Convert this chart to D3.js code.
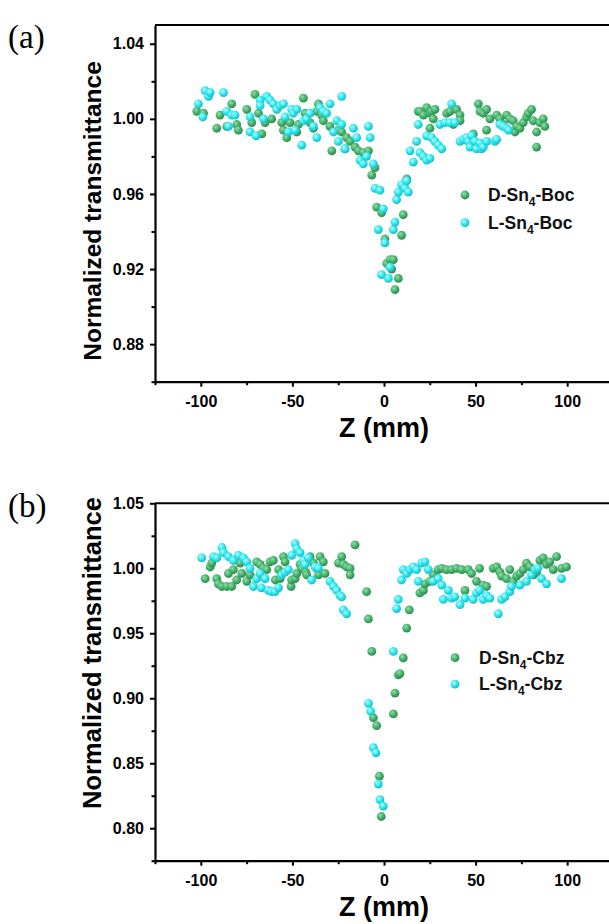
<!DOCTYPE html>
<html><head><meta charset="utf-8">
<script src="https://cdn.jsdelivr.net/npm/d3@7"></script>
<style>body{margin:0;background:#fff;} svg{display:block;}</style>
</head><body>
<svg id="c" width="609" height="924"></svg>
<script>
// ---------- data ----------
const xTicks = [-100, -50, 0, 50, 100];
const xMinorTicks = [-125, -75, -25, 25, 75, 125];
const yTicksA = [0.88, 0.92, 0.96, 1.00, 1.04];
const yMinorA = [0.86, 0.90, 0.94, 0.98, 1.02];
const yTicksB = [0.80, 0.85, 0.90, 0.95, 1.00, 1.05];
const yMinorB = [0.775, 0.825, 0.875, 0.925, 0.975, 1.025];
const xLabel = "Z (mm)";
const yLabel = "Normalized transmittance";
const seriesNamesA = [["D-Sn", "4", "-Boc"], ["L-Sn", "4", "-Boc"]];
const seriesNamesB = [["D-Sn", "4", "-Cbz"], ["L-Sn", "4", "-Cbz"]];

// panel (a): [Z (mm), normalized transmittance]
const bocD = [[-102.2,1.004],[-98.5,1.003],[-91.3,0.995],[-89.5,1.002],[-85.8,0.996],[-83.1,1.008],[-80.4,0.997],[-79.5,0.994],[-74.9,1.005],[-72.2,0.998],[-70.4,1.013],[-68.5,1.003],[-66.7,0.992],[-64.9,0.998],[-61.3,1.000],[-55.8,0.998],[-54.9,0.994],[-53.1,0.990],[-51.3,0.998],[-47.6,0.993],[-46.7,0.997],[-44.0,1.011],[-43.1,1.003],[-40.4,0.998],[-38.5,0.995],[-36.7,1.004],[-35.8,1.008],[-34.0,1.002],[-33.1,0.999],[-29.5,0.996],[-28.5,0.983],[-24.9,0.994],[-23.1,0.993],[-21.3,0.984],[-20.4,0.990],[-18.5,0.988],[-15.8,0.985],[-14.0,0.983],[-11.3,0.982],[-8.5,0.983],[-6.7,0.970],[-4.9,0.974],[-4.0,0.953],[-1.3,0.950],[0.5,0.936],[1.5,0.923],[3.3,0.925],[4.2,0.920],[5.1,0.925],[6.0,0.909],[7.8,0.915],[9.6,0.938],[10.5,0.949],[12.4,0.968],[18.7,1.004],[19.6,1.004],[21.5,1.002],[23.3,1.006],[25.1,1.003],[25.1,0.995],[26.0,1.004],[26.9,1.000],[27.8,1.005],[34.2,1.003],[36.0,1.004],[37.8,0.997],[39.6,1.005],[41.5,1.002],[41.5,0.999],[48.7,0.992],[51.5,1.008],[52.4,1.004],[54.2,1.003],[56.0,0.994],[56.0,1.005],[57.8,1.000],[61.5,1.002],[63.3,1.000],[65.1,0.997],[66.9,1.002],[68.7,1.000],[70.5,0.999],[71.5,0.993],[72.4,0.996],[74.2,0.995],[76.0,0.998],[77.8,1.001],[78.7,1.003],[80.5,1.005],[81.5,0.999],[83.3,0.993],[83.3,0.985],[85.1,0.998],[86.9,1.000],[87.8,0.996]];
const bocL = [[-101.3,1.008],[-98.9,1.001],[-97.6,1.015],[-95.8,1.012],[-94.9,1.014],[-87.6,1.014],[-85.8,1.004],[-84.9,0.996],[-83.1,1.002],[-81.3,1.002],[-73.1,1.001],[-73.1,0.993],[-69.8,0.991],[-67.6,1.010],[-67.6,1.007],[-65.8,1.000],[-64.0,1.012],[-62.2,1.010],[-60.4,1.008],[-58.5,1.005],[-56.7,1.007],[-54.9,1.008],[-54.0,1.001],[-52.2,0.993],[-50.4,1.005],[-49.5,1.003],[-48.5,0.994],[-47.6,1.005],[-44.9,0.986],[-44.0,0.999],[-42.2,1.000],[-40.4,1.003],[-38.5,0.996],[-36.7,0.990],[-34.9,1.006],[-33.1,1.004],[-31.3,1.003],[-29.5,1.008],[-27.6,0.993],[-25.8,0.999],[-24.9,0.988],[-23.1,1.012],[-23.1,0.997],[-21.3,0.984],[-16.7,0.995],[-14.9,0.990],[-13.1,0.978],[-11.3,0.976],[-9.5,0.980],[-8.5,0.996],[-7.6,0.990],[-5.8,0.976],[-4.9,0.963],[-3.1,0.941],[-2.2,0.962],[-1.3,0.917],[-0.4,0.952],[0.5,0.934],[2.4,0.915],[3.3,0.921],[5.1,0.941],[6.0,0.945],[6.9,0.957],[7.8,0.961],[9.6,0.965],[11.5,0.963],[12.4,0.967],[13.3,0.961],[14.2,0.983],[16.0,0.977],[17.8,0.988],[18.7,0.997],[19.6,0.982],[21.5,0.980],[23.3,0.978],[23.3,0.991],[25.1,0.979],[26.0,0.990],[27.8,0.988],[29.6,0.986],[30.5,0.997],[31.5,0.984],[33.3,0.998],[36.0,0.998],[36.9,1.008],[38.7,0.998],[41.5,0.988],[43.3,0.989],[45.1,0.990],[46.0,0.988],[46.9,0.985],[47.8,0.991],[49.6,0.988],[50.5,0.984],[52.4,0.987],[53.3,0.984],[54.2,0.985],[56.0,0.988],[60.5,0.988],[61.5,0.989],[63.3,0.997],[65.1,0.996],[66.9,0.995],[68.0,0.994]];

// panel (b)
const cbzD = [[-97.6,0.992],[-94.9,1.001],[-94.0,1.004],[-91.3,0.992],[-90.4,0.988],[-88.5,0.986],[-85.8,0.986],[-84.9,0.996],[-83.1,0.986],[-82.2,0.999],[-80.4,0.991],[-78.5,1.004],[-77.6,0.996],[-74.9,0.990],[-73.1,0.995],[-69.5,1.005],[-67.6,1.003],[-65.8,1.000],[-64.0,0.999],[-62.2,1.005],[-60.4,1.006],[-59.3,0.991],[-57.5,0.999],[-56.7,0.992],[-54.9,1.009],[-54.0,1.005],[-50.7,0.986],[-50.4,0.991],[-48.5,0.992],[-47.6,0.996],[-45.8,1.003],[-44.9,1.000],[-42.7,0.997],[-42.2,0.995],[-40.4,1.009],[-38.5,1.004],[-36.7,1.000],[-35.8,0.995],[-34.9,1.009],[-33.1,1.005],[-32.2,0.996],[-24.9,1.004],[-23.1,1.009],[-22.2,1.003],[-20.4,1.001],[-18.5,1.000],[-18.5,0.995],[-15.8,1.018],[-9.5,0.982],[-8.5,0.961],[-6.7,0.936],[-5.8,0.885],[-4.0,0.879],[-2.5,0.840],[-1.5,0.809],[5.1,0.888],[6.0,0.904],[7.8,0.918],[8.7,0.919],[10.5,0.931],[12.4,0.954],[13.8,0.968],[19.6,0.981],[21.5,0.983],[22.4,0.988],[25.1,0.990],[26.9,0.995],[29.6,0.999],[31.5,1.000],[34.2,0.999],[36.9,0.999],[39.6,1.000],[42.4,0.999],[44.2,0.983],[46.0,0.999],[47.8,0.996],[50.5,0.990],[52.2,1.000],[54.2,0.987],[56.0,0.986],[59.6,1.000],[61.5,1.001],[63.3,0.997],[64.2,0.994],[66.9,0.992],[68.7,0.999],[70.5,0.990],[72.4,0.994],[74.2,0.996],[76.0,0.999],[77.8,1.004],[79.6,1.001],[81.5,0.995],[83.3,0.997],[85.1,1.006],[86.9,1.008],[88.7,1.003],[90.5,1.005],[92.4,0.999],[94.2,1.009],[96.9,1.000],[99.6,1.001]];
const cbzL = [[-99.5,1.008],[-93.1,1.009],[-91.3,1.008],[-88.5,1.016],[-87.6,1.012],[-84.9,1.009],[-82.2,1.006],[-79.5,1.010],[-76.7,1.008],[-74.9,1.005],[-73.1,1.000],[-71.3,0.986],[-69.5,0.992],[-67.6,0.996],[-66.9,0.985],[-64.9,0.992],[-63.1,0.983],[-61.3,0.982],[-59.5,0.982],[-57.6,0.985],[-55.8,0.995],[-54.0,0.997],[-52.2,0.999],[-50.4,1.010],[-48.5,1.019],[-47.6,1.015],[-45.8,1.012],[-44.0,1.006],[-43.1,1.003],[-41.3,1.008],[-39.5,0.991],[-37.6,1.001],[-35.8,1.000],[-29.5,0.990],[-27.6,0.986],[-25.8,0.983],[-24.0,0.979],[-23.1,0.978],[-22.2,0.968],[-20.4,0.965],[-8.5,0.896],[-7.3,0.890],[-5.8,0.862],[-4.4,0.858],[-3.1,0.834],[-2.2,0.822],[-0.4,0.817],[5.1,0.936],[6.9,0.969],[7.8,0.976],[9.6,0.991],[10.5,0.999],[12.4,0.996],[14.2,0.999],[16.0,1.001],[17.8,0.999],[18.7,0.990],[20.5,1.004],[22.4,1.005],[24.2,0.999],[26.9,0.990],[29.6,0.992],[31.5,0.987],[32.4,0.976],[35.1,0.983],[36.9,0.977],[38.7,0.978],[41.5,0.972],[44.2,0.977],[48.7,0.976],[50.5,0.981],[52.2,0.983],[54.2,0.976],[56.0,0.979],[57.8,0.977],[62.4,0.965],[64.2,0.976],[66.0,0.978],[68.7,0.982],[69.6,0.986],[74.2,0.987],[77.8,0.990],[80.5,0.995],[82.4,0.999],[84.0,1.000],[86.0,0.992],[88.7,0.988],[96.9,0.992]];

// ---------- layout ----------
const FONT = "'Liberation Sans', Arial, Helvetica, sans-serif";
const left = 155, right = 613;
const panels = [
  {tag: "(a)", tagY: 48, top: 25, bottom: 381.7, yDomain: [0.86, 1.05], yTicks: yTicksA, yMinor: yMinorA,
   D: bocD, L: bocL, names: seriesNamesA, legX: 465, legY: 195, legDy: 27.7, legTx: 488, yTitleCy: 211, yTitleSize: 24.5, xTitleY: 437},
  {tag: "(b)", tagY: 517, top: 503.3, bottom: 860.7, yDomain: [0.775, 1.05], yTicks: yTicksB, yMinor: yMinorB,
   D: cbzD, L: cbzL, names: seriesNamesB, legX: 455, legY: 657.7, legDy: 26.5, legTx: 479, yTitleCy: 653, yTitleSize: 25.5, xTitleY: 916}
];

const svg = d3.select("#c");
const defs = svg.append("defs");
function sphere(id, c0, c1, c2) {
  const g = defs.append("radialGradient").attr("id", id)
    .attr("cx", "38%").attr("cy", "35%").attr("r", "65%");
  g.append("stop").attr("offset", "0%").attr("stop-color", c0);
  g.append("stop").attr("offset", "55%").attr("stop-color", c1);
  g.append("stop").attr("offset", "100%").attr("stop-color", c2);
}
sphere("gGreen", "#93dcae", "#45b46a", "#2c8a4e");
sphere("gCyan", "#b8ffff", "#2de6ee", "#17bccb");
const fills = ["url(#gGreen)", "url(#gCyan)"];
const R = 4.4;

panels.forEach(p => {
  const x = d3.scaleLinear().domain([-125, 125]).range([left, right]);
  const y = d3.scaleLinear().domain(p.yDomain).range([p.bottom, p.top]);
  const g = svg.append("g");

  // frame top line
  g.append("line").attr("x1", left).attr("x2", right).attr("y1", p.top).attr("y2", p.top)
    .attr("stroke", "#000").attr("stroke-width", 2);

  // minor ticks
  g.append("g").attr("transform", `translate(0,${p.bottom})`)
    .call(d3.axisBottom(x).tickValues(xMinorTicks).tickSize(3.5).tickFormat("").tickSizeOuter(0))
    .call(s => s.select(".domain").remove())
    .call(s => s.selectAll("line").attr("stroke-width", 2));
  g.append("g").attr("transform", `translate(${left},0)`)
    .call(d3.axisLeft(y).tickValues(p.yMinor).tickSize(3.5).tickFormat("").tickSizeOuter(0))
    .call(s => s.select(".domain").remove())
    .call(s => s.selectAll("line").attr("stroke-width", 2));

  // major axes
  const xa = g.append("g").attr("transform", `translate(0,${p.bottom})`)
    .call(d3.axisBottom(x).tickValues(xTicks).tickSize(5).tickPadding(9).tickSizeOuter(0)
      .tickFormat(d => String(d)));
  const ya = g.append("g").attr("transform", `translate(${left},0)`)
    .call(d3.axisLeft(y).tickValues(p.yTicks).tickSize(5).tickPadding(6).tickSizeOuter(0)
      .tickFormat(d3.format(".2f")));
  [xa, ya].forEach(a => {
    a.select(".domain").attr("stroke-width", 2.2);
    a.selectAll(".tick line").attr("stroke-width", 2);
    a.selectAll("text").attr("font-family", FONT).attr("font-weight", "bold")
      .attr("font-size", 16).attr("fill", "#000");
  });

  // axis titles
  g.append("text").attr("x", x(0)).attr("y", p.xTitleY)
    .attr("text-anchor", "middle").attr("font-family", FONT).attr("font-weight", "bold")
    .attr("font-size", 27).text(xLabel);
  g.append("text").attr("transform", `translate(101,${p.yTitleCy}) rotate(-90)`)
    .attr("text-anchor", "middle").attr("font-family", FONT).attr("font-weight", "bold")
    .attr("font-size", p.yTitleSize).text(yLabel);

  // panel tag
  g.append("text").attr("x", 8).attr("y", p.tagY).attr("font-family", "'Liberation Serif', 'Times New Roman', serif")
    .attr("font-size", 33).text(p.tag);

  // points
  [p.D, p.L].forEach((data, i) => {
    g.append("g").selectAll("circle").data(data).join("circle")
      .attr("cx", d => x(d[0])).attr("cy", d => y(d[1])).attr("r", R)
      .attr("fill", fills[i]);
  });

  // legend
  p.names.forEach((nm, i) => {
    const ly = p.legY + i * p.legDy;
    g.append("circle").attr("cx", p.legX).attr("cy", ly).attr("r", R).attr("fill", fills[i]);
    const t = g.append("text").attr("x", p.legTx).attr("y", ly + 6)
      .attr("font-family", FONT).attr("font-size", 17.5).attr("font-weight", "bold").attr("fill", "#111");
    t.append("tspan").text(nm[0]);
    t.append("tspan").attr("font-size", 12).attr("dy", 5).text(nm[1]);
    t.append("tspan").attr("dy", -5).text(nm[2]);
  });
});
</script>
</body></html>
